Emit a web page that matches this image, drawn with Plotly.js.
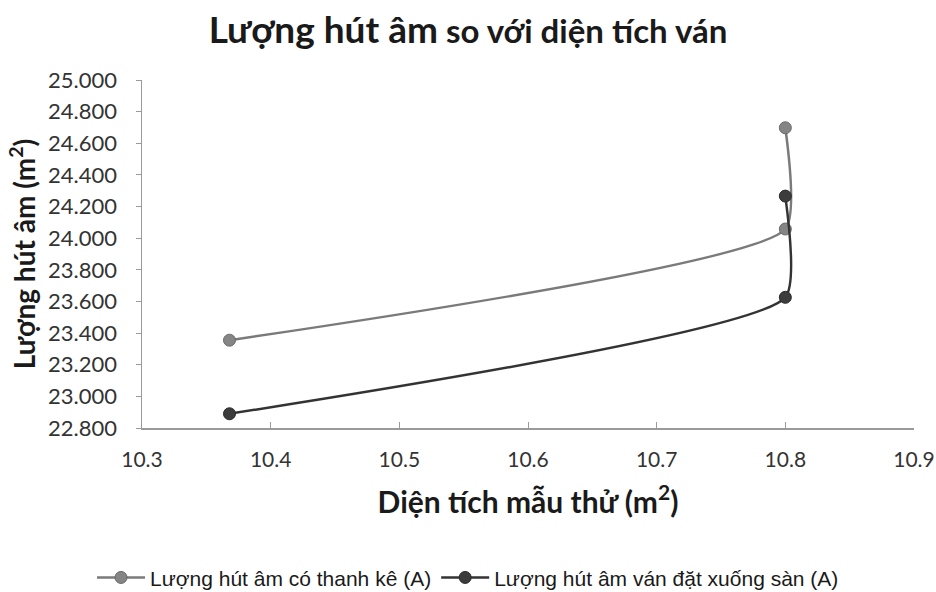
<!DOCTYPE html>
<html>
<head>
<meta charset="utf-8">
<script src="https://cdn.plot.ly/plotly-3.0.1.min.js"></script>
<style>html,body{margin:0;padding:0;background:#fff;}#chart{width:936px;height:592px;}</style>
</head>
<body>
<div id="chart"></div>
<script>
const seriesNames = ["Lượng hút âm có thanh kê (A)", "Lượng hút âm ván đặt xuống sàn (A)"];
const xGray = [10.368, 10.8, 10.8];
const yGray = [23.355, 24.058, 24.698];
const xDark = [10.368, 10.8, 10.8];
const yDark = [22.89, 23.626, 24.266];
const xTicks = [10.3, 10.4, 10.5, 10.6, 10.7, 10.8, 10.9];
const yTicks = [22.8, 23.0, 23.2, 23.4, 23.6, 23.8, 24.0, 24.2, 24.4, 24.6, 24.8, 25.0];

const FONT = 'Lato, "Open Sans", sans-serif';
const traces = [
  {x: xGray, y: yGray, name: seriesNames[0], mode: 'lines+markers', type: 'scatter',
   line: {color: '#7a7a7a', width: 2.5, shape: 'spline', smoothing: 0.5},
   marker: {color: '#858585', size: 12, line: {color: '#6a6a6a', width: 1}}},
  {x: xDark, y: yDark, name: seriesNames[1], mode: 'lines+markers', type: 'scatter',
   line: {color: '#333333', width: 2.5, shape: 'spline', smoothing: 0.5},
   marker: {color: '#3c3c3c', size: 12, line: {color: '#2a2a2a', width: 1}}}
];

const layout = {
  width: 936, height: 592,
  paper_bgcolor: '#ffffff', plot_bgcolor: '#ffffff',
  margin: {l: 142, r: 22, t: 80, b: 164},
  title: {
    text: '<b><span style="font-size:37px">Lượng hút âm</span> so với diện tích ván</b>',
    font: {family: FONT, size: 33, color: '#1a1a1a'},
    x: 0.5, xref: 'container', xanchor: 'center', y: 0.947, yref: 'container', yanchor: 'middle'
  },
  xaxis: {
    range: [10.3, 10.9], tickvals: xTicks, ticktext: xTicks.map(v => v.toFixed(1)),
    showgrid: false, zeroline: false, showline: true, linecolor: '#9a9a9a', linewidth: 1.5,
    ticks: 'inside', ticklen: 6, tickcolor: '#9a9a9a', ticklabelstandoff: 12,
    tickfont: {family: FONT, size: 21, color: '#333333'},
    title: {text: '<b>Diện tích mẫu thử (m<sup>2</sup>)</b>', standoff: 22,
            font: {family: FONT, size: 30, color: '#1a1a1a'}}
  },
  yaxis: {
    range: [22.8, 25.0], tickvals: yTicks, ticktext: yTicks.map(v => v.toFixed(3)),
    showgrid: false, zeroline: false, showline: true, linecolor: '#9a9a9a', linewidth: 1.5,
    ticks: 'outside', ticklen: 5, tickcolor: '#9a9a9a', ticklabelstandoff: 14,
    tickfont: {family: FONT, size: 22, color: '#333333'},
    title: {text: '<b>Lượng hút âm (m<sup>2</sup>)</b>', standoff: 4,
            font: {family: FONT, size: 28, color: '#1a1a1a'}}
  },
  legend: {
    orientation: 'h', x: 0.5, xref: 'container', xanchor: 'center',
    y: 0.024, yref: 'container', yanchor: 'middle',
    font: {family: '"Liberation Sans", Arial, sans-serif', size: 21, color: '#1a1a1a'},
    itemwidth: 48, tracegroupgap: 0
  },
  showlegend: true
};

Plotly.newPlot('chart', traces, layout, {displayModeBar: false, staticPlot: true});
</script>
</body>
</html>
